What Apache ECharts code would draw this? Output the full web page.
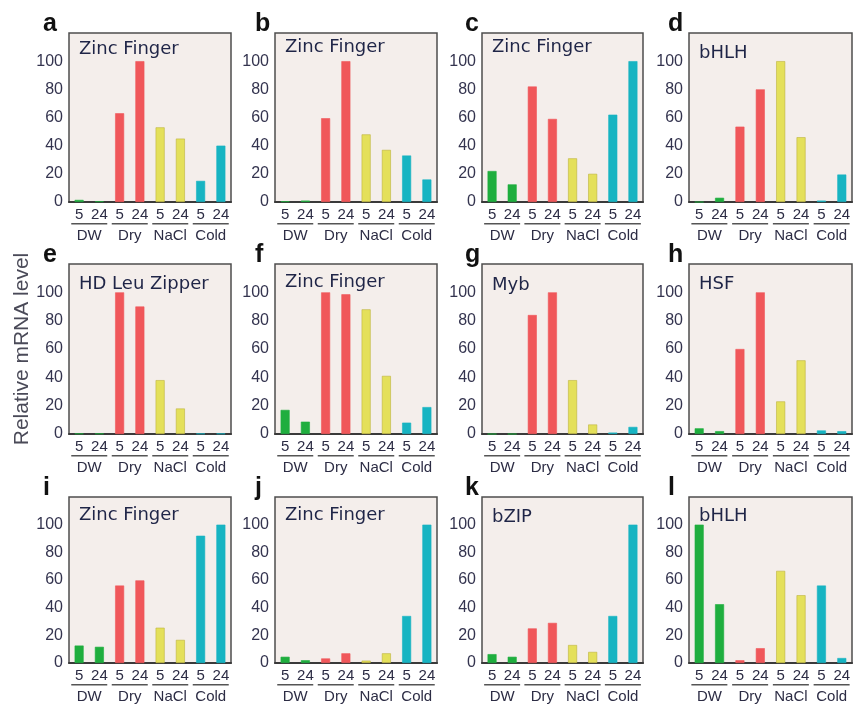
<!DOCTYPE html>
<html>
<head>
<meta charset="utf-8">
<script src="https://cdn.jsdelivr.net/npm/echarts@6/dist/echarts.min.js"></script>
<style>html,body{margin:0;padding:0;background:#fff}#c{width:854px;height:704px}</style>
</head>
<body>
<div id="c"></div>
<script>
// ---- data ----
const categories = ['5','24','5','24','5','24','5','24'];
const groups = ['DW','Dry','NaCl','Cold'];
const yTicks = [0,20,40,60,80,100];
const panelLetters = ['a','b','c','d','e','f','g','h','i','j','k','l'];
const panelTitles = ['Zinc Finger','Zinc Finger','Zinc Finger','bHLH','HD Leu Zipper','Zinc Finger','Myb','HSF','Zinc Finger','Zinc Finger','bZIP','bHLH'];
const yAxisName = 'Relative mRNA level';

const valuesA = [1.5, 0.5, 63, 100, 53, 45, 15, 40];
const valuesB = [0.5, 1, 59.5, 100, 48, 37, 33, 16];
const valuesC = [22, 12.5, 82, 59, 31, 20, 62, 100];
const valuesD = [0, 3, 53.5, 80, 100, 46, 1, 19.5];
const valuesE = [0.3, 0.3, 100, 90, 38, 18, 0.3, 0.3];
const valuesF = [17, 8.7, 100, 98.6, 88, 41, 8, 19];
const valuesG = [0, 0, 84, 100, 38, 6.7, 1, 5];
const valuesH = [4, 2, 60, 100, 23, 52, 2.5, 2];
const valuesI = [12.6, 11.7, 56, 59.7, 25.5, 16.7, 92, 100];
const valuesJ = [4.5, 2, 3.3, 7, 1.7, 7, 34, 100];
const valuesK = [6.4, 4.5, 25, 29, 13, 8, 34, 100];
const valuesL = [100, 42.5, 2, 10.7, 66.6, 49, 56, 3.6];

const panels = [valuesA, valuesB, valuesC, valuesD, valuesE, valuesF,
                valuesG, valuesH, valuesI, valuesJ, valuesK, valuesL];

// ---- styles / layout ----
const groupColors = ['#1fae3e', '#f0575a', '#e4e05a', '#17b4c2'];
const groupBorders = ['#1fae3e', '#f0575a', '#bdb43e', '#17b4c2'];
const colLeft = [69, 275, 482, 689];
const colWidth = [162, 162, 161, 163];
const rowTop = [33, 264, 497];
const rowHeight = [169, 170, 169];
const letterX = [43, 255, 465, 668];
const titleCapDy = [9, 7, 7, 13, 13, 11, 14, 13, 11, 11, 13, 12];
const sansFont = '"Liberation Sans", Arial, Helvetica, sans-serif';
const titleFont = '"DejaVu Sans", sans-serif';

const chart = echarts.init(document.getElementById('c'));
const grids = [], xAxes = [], yAxes = [], series = [], graphics = [];

panels.forEach((vals, i) => {
  const r = Math.floor(i / 4), c = i % 4;
  grids.push({
    left: colLeft[c], top: rowTop[r], width: colWidth[c], height: rowHeight[r],
    show: true, backgroundColor: '#f4eeeb', borderColor: '#4d4d4d', borderWidth: 1.5
  });
  xAxes.push({
    gridIndex: i, type: 'category', data: categories,
    axisLine: { show: true, lineStyle: { color: '#3a3a3a', width: 2 } },
    axisTick: { show: false },
    axisLabel: { interval: 0, margin: 5, fontSize: 15, color: '#2c2c44', fontFamily: sansFont }
  });
  xAxes.push({
    gridIndex: i, type: 'category', data: groups, position: 'bottom',
    axisLine: { show: false }, axisTick: { show: false }, splitLine: { show: false },
    axisLabel: {
      interval: 0, margin: 21,
      formatter: v => '{u| }\n{n|' + v + '}',
      rich: {
        u: { width: 36, height: 1.5, lineHeight: 1.5, fontSize: 1, backgroundColor: '#555' },
        n: { fontSize: 15, lineHeight: 22, color: '#2c2c44', fontFamily: sansFont }
      }
    }
  });
  const ya = {
    gridIndex: i, type: 'value', min: 0, max: 120, interval: 20,
    axisLine: { show: false }, axisTick: { show: false }, splitLine: { show: false },
    axisLabel: {
      margin: 6, fontSize: 16, color: '#34344f', fontFamily: sansFont,
      formatter: v => (yTicks.indexOf(v) >= 0 ? String(v) : '')
    }
  };
  if (i === 4) {
    ya.name = yAxisName;
    ya.nameLocation = 'middle';
    ya.nameRotate = 90;
    ya.nameGap = 35;
    ya.nameTextStyle = { fontSize: 21, color: '#4a4a58', fontFamily: sansFont };
  }
  yAxes.push(ya);
  series.push({
    type: 'bar', xAxisIndex: 2 * i, yAxisIndex: i, barWidth: 9, silent: true,
    data: vals.map((v, k) => ({
      value: v,
      itemStyle: { color: groupColors[k >> 1], borderColor: groupBorders[k >> 1], borderWidth: 0.6 }
    }))
  });
  graphics.push({
    type: 'text', left: letterX[c], top: rowTop[r] - 21,
    style: { text: panelLetters[i], font: 'bold 25px ' + sansFont, fill: '#111' }
  });
  graphics.push({
    type: 'text', x: colLeft[c] + 10, y: rowTop[r] + titleCapDy[i] - 2,
    style: { text: panelTitles[i], font: '18px ' + titleFont, fill: '#1f2547', verticalAlign: 'top' }
  });
});

chart.setOption({
  animation: false,
  grid: grids, xAxis: xAxes, yAxis: yAxes, series: series, graphic: graphics
});
</script>
</body>
</html>
